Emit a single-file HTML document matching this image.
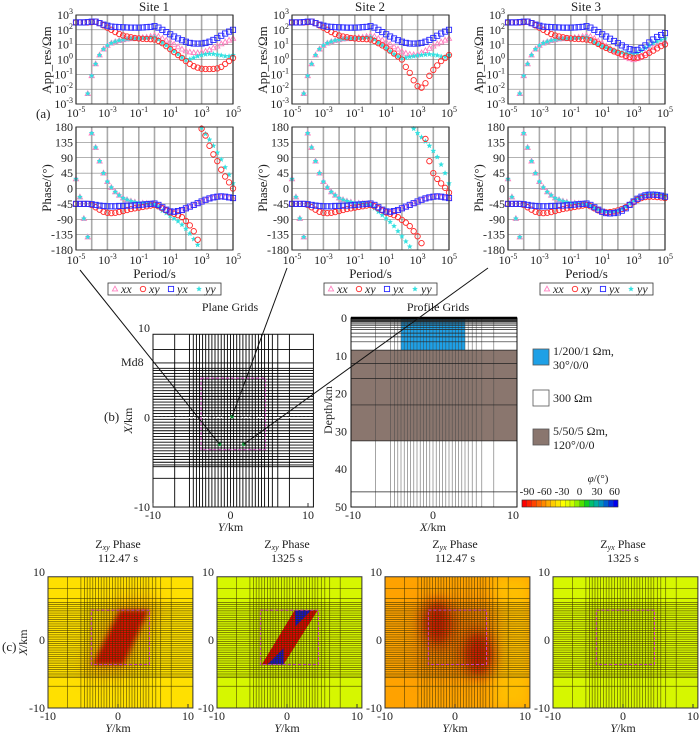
<!DOCTYPE html>
<html><head><meta charset="utf-8"><title>MT response figure</title>
<style>
html,body{margin:0;padding:0;background:#fff;}
svg{display:block;}
svg text{fill:#222;font-family:"Liberation Serif","Times New Roman",serif;}
</style></head>
<body>
<svg id="fig" width="700" height="735" viewBox="0 0 700 735" xmlns="http://www.w3.org/2000/svg" font-family="Liberation Serif, serif">
<defs>
<filter id="blur6" x="-50%" y="-50%" width="200%" height="200%"><feGaussianBlur stdDeviation="6"/></filter>
<filter id="blur3" x="-50%" y="-50%" width="200%" height="200%"><feGaussianBlur stdDeviation="2.5"/></filter>
<filter id="blur10" x="-50%" y="-50%" width="200%" height="200%"><feGaussianBlur stdDeviation="10"/></filter>
</defs>
<text x="154" y="11" font-size="13" text-anchor="middle">Site 1</text>
<text x="370" y="11" font-size="13" text-anchor="middle">Site 2</text>
<text x="586" y="11" font-size="13" text-anchor="middle">Site 3</text>
<text x="36" y="118" font-size="13">(a)</text>
<text x="104" y="421" font-size="13">(b)</text>
<text x="2" y="651" font-size="13">(c)</text>
<text x="230" y="311" font-size="12" text-anchor="middle">Plane Grids</text>
<text x="438" y="311" font-size="12" text-anchor="middle">Profile Grids</text>
<text x="121" y="366" font-size="12">Md8</text>
<g id="root"></g>
</svg>
<script>
// ---------- data ----------
const logPeriods = [];
for (let i = 0; i <= 40; i++) logPeriods.push(-5 + i * 0.25);

const s1RhoXX = [null,null,null,-2.3,-1.1,-0.3,0.3,0.7,0.95,1.1,1.2,1.28,1.33,1.38,1.4,1.42,1.45,1.48,1.5,1.55,1.62,1.55,1.42,1.3,1.18,1.02,0.85,0.7,0.58,0.5,0.46,0.45,0.48,0.55,0.65,0.78,0.9,1.05,1.18,1.3,1.42];
const s1RhoXY = [2.5,2.5,2.5,2.5,2.52,2.55,2.45,2.3,2.15,2.0,1.85,1.72,1.62,1.55,1.5,1.45,1.42,1.4,1.38,1.37,1.35,1.25,1.1,0.9,0.7,0.5,0.3,0.1,-0.1,-0.3,-0.45,-0.55,-0.62,-0.64,-0.64,-0.63,-0.6,-0.5,-0.3,-0.1,0.1];
const s1RhoYX = [2.5,2.5,2.5,2.52,2.55,2.55,2.45,2.35,2.28,2.22,2.2,2.18,2.17,2.16,2.15,2.15,2.15,2.16,2.18,2.2,2.25,2.15,2.0,1.85,1.7,1.55,1.42,1.3,1.2,1.12,1.08,1.07,1.08,1.12,1.2,1.32,1.45,1.6,1.75,1.88,2.0];
const s1RhoYY = [null,null,null,-2.3,-1.1,-0.3,0.3,0.7,0.95,1.1,1.2,1.28,1.33,1.38,1.4,1.4,1.42,1.44,1.45,1.48,1.5,1.35,1.15,0.95,0.75,0.55,0.35,0.15,-0.02,0.02,0.12,0.22,0.3,0.35,0.38,0.37,0.33,0.28,0.22,0.22,0.3];

const s2RhoXX = [null,null,null,-2.3,-1.1,-0.3,0.3,0.7,0.95,1.1,1.2,1.28,1.33,1.38,1.4,1.42,1.45,1.48,1.5,1.55,1.62,1.55,1.42,1.3,1.18,1.02,0.85,0.7,0.55,0.42,0.35,0.32,0.35,0.45,0.6,0.75,0.9,1.05,1.18,1.3,1.42];
const s2RhoXY = [2.5,2.5,2.5,2.5,2.52,2.55,2.45,2.3,2.15,2.0,1.85,1.72,1.62,1.55,1.5,1.45,1.42,1.4,1.38,1.37,1.35,1.25,1.1,0.95,0.8,0.6,0.4,0.2,0.0,-0.5,-0.9,-1.4,-1.8,-1.9,-1.6,-1.1,-0.7,-0.4,-0.1,0.1,0.3];
const s2RhoYX = [2.5,2.5,2.5,2.52,2.55,2.55,2.45,2.35,2.28,2.22,2.2,2.18,2.17,2.16,2.15,2.15,2.15,2.16,2.18,2.2,2.25,2.15,2.0,1.85,1.7,1.55,1.42,1.3,1.2,1.12,1.08,1.07,1.08,1.12,1.2,1.32,1.45,1.6,1.75,1.88,2.0];
const s2RhoYY = [null,null,null,-2.3,-1.1,-0.3,0.3,0.7,0.95,1.1,1.2,1.28,1.33,1.38,1.4,1.4,1.42,1.44,1.45,1.48,1.5,1.35,1.15,0.95,0.75,0.55,0.35,0.2,0.1,0.12,0.18,0.22,0.27,0.3,0.33,0.35,0.33,0.28,0.2,0.18,0.3];

const s3RhoXX = [null,null,null,-2.3,-1.1,-0.3,0.3,0.7,0.95,1.1,1.2,1.28,1.33,1.38,1.4,1.42,1.45,1.48,1.5,1.55,1.62,1.55,1.42,1.25,1.1,0.9,0.75,0.6,0.45,0.3,0.15,0.05,-0.02,0.05,0.2,0.4,0.6,0.8,0.95,1.1,1.2];
const s3RhoXY = [2.5,2.5,2.5,2.5,2.52,2.55,2.45,2.3,2.15,2.0,1.85,1.72,1.62,1.55,1.5,1.45,1.42,1.4,1.38,1.37,1.35,1.3,1.2,1.05,0.9,0.78,0.66,0.55,0.45,0.35,0.25,0.17,0.12,0.13,0.2,0.3,0.45,0.6,0.75,0.9,1.02];
const s3RhoYX = [2.5,2.5,2.5,2.52,2.55,2.55,2.45,2.35,2.28,2.22,2.2,2.18,2.17,2.16,2.15,2.15,2.15,2.16,2.18,2.2,2.25,2.15,2.0,1.85,1.7,1.55,1.4,1.25,1.1,0.95,0.82,0.7,0.62,0.65,0.78,0.95,1.15,1.35,1.52,1.65,1.78];
const s3RhoYY = [null,null,null,-2.3,-1.1,-0.3,0.3,0.7,0.95,1.1,1.2,1.28,1.33,1.38,1.4,1.4,1.42,1.44,1.45,1.48,1.5,1.35,1.15,1.0,0.9,0.8,0.7,0.6,0.55,0.48,0.42,0.38,0.35,0.45,0.6,0.78,0.95,1.1,1.22,1.32,1.42];

const s1PhXX = [28,-25,-88,-142,162,120,80,45,20,3,-10,-20,-28,-33,-37,-40,-42,-43,-44,-45,-46,-50,-57,-64,-69,-70,-68,-64,-59,-54,-49,-44,-39,-34,-30,-27,-25,-24,-25,-27,-29];
const s1PhXY = [-45,-45,-45,-45,-48,-55,-62,-68,-71,-72,-71,-69,-66,-63,-60,-58,-56,-54,-52,-50,-48,-52,-58,-64,-70,-74,-78,-84,-95,-108,-125,-150,175,155,125,100,80,55,35,18,0];
const s1PhYX = [-45,-45,-45,-45,-46,-48,-50,-51,-52,-52,-52,-51,-51,-50,-50,-49,-48,-47,-46,-45,-44,-48,-55,-62,-67,-68,-66,-63,-58,-53,-48,-43,-38,-33,-29,-26,-24,-23,-24,-26,-28];
const s1PhYY = [28,-25,-88,-142,162,120,80,45,20,3,-10,-20,-28,-33,-37,-40,-42,-43,-44,-45,-47,-55,-65,-72,-80,-88,-96,-106,-118,-132,-148,-165,178,160,143,125,105,85,62,40,15];

const s2PhXX = [28,-25,-88,-142,162,120,80,45,20,3,-10,-20,-28,-33,-37,-40,-42,-43,-44,-45,-46,-50,-57,-64,-69,-70,-68,-64,-59,-54,-49,-44,-39,-34,-30,-27,-25,-24,-25,-27,-29];
const s2PhXY = [-45,-45,-45,-45,-48,-55,-62,-68,-71,-72,-71,-69,-66,-63,-60,-58,-56,-54,-52,-50,-48,-52,-58,-64,-70,-74,-78,-84,-92,-100,-110,-125,-140,-160,145,80,45,28,15,2,-12];
const s2PhYX = [-45,-45,-45,-45,-46,-48,-50,-51,-52,-52,-52,-51,-51,-50,-50,-49,-48,-47,-46,-45,-44,-48,-55,-62,-67,-68,-66,-63,-58,-53,-48,-43,-38,-33,-29,-26,-24,-23,-24,-26,-28];
const s2PhYY = [28,-25,-88,-142,162,120,80,45,20,3,-10,-20,-28,-33,-37,-40,-42,-43,-44,-45,-48,-58,-68,-78,-88,-98,-110,-125,-140,-155,-170,175,162,150,138,125,110,92,70,45,15];

const s3PhXX = [28,-25,-88,-142,162,120,80,45,20,3,-10,-20,-28,-33,-37,-40,-42,-43,-44,-45,-46,-50,-56,-62,-68,-70,-70,-68,-66,-62,-55,-46,-37,-29,-23,-19,-17,-17,-18,-20,-22];
const s3PhXY = [-45,-45,-45,-45,-48,-55,-62,-68,-71,-72,-71,-69,-66,-63,-60,-58,-56,-54,-52,-50,-48,-52,-58,-64,-68,-70,-69,-67,-64,-60,-55,-48,-40,-33,-28,-25,-24,-24,-25,-26,-28];
const s3PhYX = [-45,-45,-45,-45,-46,-48,-50,-51,-52,-52,-52,-51,-51,-50,-50,-49,-48,-47,-46,-45,-44,-48,-55,-62,-68,-72,-73,-72,-70,-65,-58,-48,-38,-30,-24,-20,-18,-18,-19,-21,-24];
const s3PhYY = [28,-25,-88,-142,162,120,80,45,20,3,-10,-20,-28,-33,-37,-40,-42,-43,-44,-45,-46,-50,-56,-61,-66,-68,-68,-67,-65,-60,-53,-44,-35,-28,-22,-18,-16,-16,-17,-19,-21];

const rhoTickExps = [3,2,1,0,-1,-2,-3];
const phaseTicks = [180,135,90,45,0,-45,-90,-135,-180];
const periodTickExps = [-5,-3,-1,1,3,5];
const kmTicks = [-10,0,10];
const depthTicks = [0,10,20,30,40,50];
const colorbarLabels = ['-90','-60','-30','0','30','60'];

// ---------- helpers ----------
const NS = 'http://www.w3.org/2000/svg';
const root = document.getElementById('root');
function mk(tag, attrs, parent) {
  const e = document.createElementNS(NS, tag);
  for (const k in attrs) e.setAttribute(k, attrs[k]);
  (parent || root).appendChild(e);
  return e;
}
function txt(x, y, s, size, anchor, parent) {
  const e = mk('text', {x: x, y: y, 'font-size': size || 12, 'text-anchor': anchor || 'middle', 'font-family': 'Liberation Serif, serif'}, parent);
  e.textContent = s;
  return e;
}
function powLabel(x, y, exp, anchor) {
  const e = mk('text', {x: x, y: y, 'font-size': 12, 'text-anchor': anchor, 'font-family': 'Liberation Serif, serif'});
  e.textContent = '10';
  const sp = mk('tspan', {dy: -5, 'font-size': 8}, e);
  sp.textContent = String(exp);
  return e;
}
const COL = {xx: '#ff80c0', xy: '#ff2a2a', yx: '#2a2aff', yy: '#30e0e0'};
function marker(type, cx, cy, parent) {
  let e;
  if (type === 'xy') {
    e = mk('circle', {cx: cx, cy: cy, r: 2.7, fill: 'none', stroke: COL.xy, 'stroke-width': 0.9}, parent);
  } else if (type === 'yx') {
    e = mk('rect', {x: cx - 2.6, y: cy - 2.6, width: 5.2, height: 5.2, fill: 'none', stroke: COL.yx, 'stroke-width': 0.9}, parent);
  } else if (type === 'xx') {
    e = mk('polygon', {points: `${cx},${cy-2.8} ${cx+2.6},${cy+1.9} ${cx-2.6},${cy+1.9}`, fill: 'none', stroke: COL.xx, 'stroke-width': 0.9}, parent);
  } else {
    const p = [];
    for (let k = 0; k < 10; k++) {
      const r = k % 2 ? 1.1 : 2.6, a = -Math.PI / 2 + k * Math.PI / 5;
      p.push((cx + r * Math.cos(a)).toFixed(2) + ',' + (cy + r * Math.sin(a)).toFixed(2));
    }
    e = mk('polygon', {points: p.join(' '), fill: COL.yy, stroke: COL.yy, 'stroke-width': 0.4}, parent);
  }
  return e;
}

// ---------- site panels ----------
const siteLefts = [76, 292, 508];
const PW = 157, RT = 15, RB = 104, PT = 127, PB = 250;
const sites = [
  {rho: {xx: s1RhoXX, xy: s1RhoXY, yx: s1RhoYX, yy: s1RhoYY}, ph: {xx: s1PhXX, xy: s1PhXY, yx: s1PhYX, yy: s1PhYY}},
  {rho: {xx: s2RhoXX, xy: s2RhoXY, yx: s2RhoYX, yy: s2RhoYY}, ph: {xx: s2PhXX, xy: s2PhXY, yx: s2PhYX, yy: s2PhYY}},
  {rho: {xx: s3RhoXX, xy: s3RhoXY, yx: s3RhoYX, yy: s3RhoYY}, ph: {xx: s3PhXX, xy: s3PhXY, yx: s3PhYX, yy: s3PhYY}}
];
sites.forEach((site, k) => {
  const x0 = siteLefts[k];
  const xs = lp => x0 + (lp + 5) / 10 * PW;
  const yr = l => RT + (3 - l) / 6 * (RB - RT);
  const yp = d => PT + (180 - d) / 360 * (PB - PT);
  const g = mk('g', {});
  
  
  [[RT, RB], [PT, PB]].forEach(([t, b]) => {
    const bg = mk('rect', {x: x0, y: t, width: PW, height: b - t, fill: '#fff'}, g);
    
    
    for (let d = -5; d <= 5; d++) {
      const l = mk('line', {x1: xs(d), x2: xs(d), y1: t, y2: b, stroke: '#aaa', 'stroke-width': 1.6}, g);
      
      
    }
  });
  rhoTickExps.forEach(e => {
    const l = mk('line', {x1: x0, x2: x0 + PW, y1: yr(e), y2: yr(e), stroke: '#666', 'stroke-width': 0.5}, g);
    
    
    const t = powLabel(x0 - 3, yr(e) + 4, e, 'end');
    
    
  });
  phaseTicks.forEach(v => {
    const l = mk('line', {x1: x0, x2: x0 + PW, y1: yp(v), y2: yp(v), stroke: '#666', 'stroke-width': 0.5}, g);
    
    
    const t = txt(x0 - 3, yp(v) + 4, String(v), 12, 'end');
    
    
  });
  periodTickExps.forEach(e => {
    const a = powLabel(xs(e), 117, e, 'middle');
    
    
    const b = powLabel(xs(e), 264, e, 'middle');
    
    
  });
  ['xx', 'yy', 'xy', 'yx'].forEach(c => {
    site.rho[c].forEach((v, i) => {
      if (v === null) return;
      const m = marker(c, xs(logPeriods[i]), yr(v), g);
      
      
    });
    site.ph[c].forEach((v, i) => {
      if (v === null) return;
      const m = marker(c, xs(logPeriods[i]), yp(v), g);
      
      
    });
  });
  [[RT, RB], [PT, PB]].forEach(([t, b]) => {
    const f = mk('rect', {x: x0, y: t, width: PW, height: b - t, fill: 'none', stroke: '#333', 'stroke-width': 1}, g);
    
    
  });
  const yl1 = txt(0, 0, 'App_res/Ωm', 13);
  yl1.setAttribute('transform', `translate(${x0 - 25},60) rotate(-90)`);
  
  
  const yl2 = txt(0, 0, 'Phase/(°)', 13);
  yl2.setAttribute('transform', `translate(${x0 - 25},188) rotate(-90)`);
  
  
  const xl = txt(x0 + PW / 2, 278, 'Period/s', 13);
  
  
  const lg = mk('g', {}, g);
  
  
  const lb = mk('rect', {x: x0 + 32, y: 283, width: 113, height: 12, fill: '#fff', stroke: '#333', 'stroke-width': 0.8}, lg);
  
  
  ['xx', 'xy', 'yx', 'yy'].forEach((c, j) => {
    const mx = x0 + 39 + j * 28;
    const m = marker(c, mx, 289, lg);
    
    
    const t = txt(mx + 6, 293, c, 12, 'start', lg);
    t.setAttribute('font-style', 'italic');
    
    
  });
});

// ---------- grid definitions (layout) ----------
const gridV = [-7.2, -5.3, -4.8];
for (let v = -4.4; v <= 4.45; v += 0.4) gridV.push(+v.toFixed(2));
gridV.push(4.9, 5.4, 6.1, 7.6);
const gridH = [-6.8, -5.5, -5.3];
for (let v = -5.0; v <= 5.25; v += 0.32) gridH.push(+v.toFixed(2));
gridH.push(5.5, 6.1, 7.6);
const depthLines = [0.2, 0.4, 0.6, 0.8, 1.0, 1.3, 1.6, 2.0, 2.5, 3.0, 4.0, 5.0, 6.3, 8.5, 12, 16, 23, 32.5, 46];

function panel(left, right10, top10, bottom) {
  return {
    left: left, top: top10 - (top10 - bottom) / 20 * 0.7, bottom: bottom,
    right: right10 + (right10 - left) / 20 * 0.7,
    x: km => left + (km + 10) / 20 * (right10 - left),
    y: km => bottom - (km + 10) / 20 * (bottom - top10)
  };
}
function drawGridLines(p, g, col, w, op) {
  gridV.forEach(v => {
    const l = mk('line', {x1: p.x(v), x2: p.x(v), y1: p.top, y2: p.bottom, stroke: col, 'stroke-width': w, opacity: op}, g);
    
    
  });
  gridH.forEach(v => {
    const l = mk('line', {x1: p.left, x2: p.right, y1: p.y(v), y2: p.y(v), stroke: col, 'stroke-width': w, opacity: op}, g);
    
    
  });
}
function axesKm(p, g, xlab, ylab) {
  kmTicks.forEach(v => {
    const a = txt(p.x(v), p.bottom + 12, String(v), 12, 'middle', g);
    
    
    const tk = mk('line', {x1: p.x(v), x2: p.x(v), y1: p.bottom, y2: p.bottom - 4, stroke: '#333'}, g);
    
    
    const b = txt(p.left - 3, p.y(v) + 4, String(v), 12, 'end', g);
    
    
  });
  const xl = txt((p.x(-10) + p.x(10)) / 2, p.bottom + 24, '', 12, 'middle', g);
  const it = mk('tspan', {'font-style': 'italic'}, xl); it.textContent = xlab;
  const rest = mk('tspan', {}, xl); rest.textContent = '/km';
  
  
  if (ylab) {
    const yl = txt(0, 0, '', 12, 'middle', g);
    const i2 = mk('tspan', {'font-style': 'italic'}, yl); i2.textContent = ylab;
    const r2 = mk('tspan', {}, yl); r2.textContent = '/km';
    yl.setAttribute('transform', `translate(${p.left - 21},${(p.top + p.bottom) / 2}) rotate(-90)`);
    
    
  }
}
function magentaBox(p, g) {
  const r = mk('rect', {x: p.x(-3.8), y: p.y(4.4), width: p.x(4.5) - p.x(-3.8), height: p.y(-3.6) - p.y(4.4), fill: 'none', stroke: '#d040c0', 'stroke-width': 1, 'stroke-dasharray': '3,2'}, g);
  
  
}

// ---------- plane grid ----------
const pp = panel(153, 308, 328, 507);
const gp = mk('g', {});


drawGridLines(pp, gp, '#000', 0.9, 1);
const zl = mk('line', {x1: pp.left, x2: pp.right, y1: pp.y(0), y2: pp.y(0), stroke: '#fff', 'stroke-width': 1.2, 'stroke-dasharray': '2,2'}, gp);


magentaBox(pp, gp);
const pf = mk('rect', {x: pp.left, y: pp.top, width: pp.right - pp.left, height: pp.bottom - pp.top, fill: 'none', stroke: '#111', 'stroke-width': 1}, gp);


axesKm(pp, gp, 'Y', 'X');
const sitePts = [[-1.4, -3.0], [0.2, 0.1], [1.7, -3.0]];
sitePts.forEach((s, i) => {
  const c = mk('circle', {cx: pp.x(s[0]), cy: pp.y(s[1]), r: 1.8, fill: '#1a9a40'}, gp);
  
  
});

// ---------- profile grid ----------
const px0 = 353, px1 = 513, pyTop = 318, pyBot = 507;
const dx = km => px0 + (km + 10) / 20 * (px1 - px0);
const dy = d => pyTop + d / 50 * (pyBot - pyTop);
const gq = mk('g', {});


const brown = mk('rect', {x: 351, y: dy(8.5), width: 517 - 351, height: dy(32.5) - dy(8.5), fill: '#8a766e'}, gq);


const blue = mk('rect', {x: dx(-4), y: dy(0), width: dx(4) - dx(-4), height: dy(8.5) - dy(0), fill: '#1ea0e6'}, gq);


gridV.forEach(v => {
  const l = mk('line', {x1: dx(v), x2: dx(v), y1: pyTop, y2: pyBot, stroke: '#444', 'stroke-width': 0.6, opacity: 0.8}, gq);
  
  
});
depthLines.forEach(d => {
  const l = mk('line', {x1: 351, x2: 517, y1: dy(d), y2: dy(d), stroke: '#222', 'stroke-width': 0.7}, gq);
  
  
});
const qf = mk('rect', {x: 351, y: pyTop, width: 166, height: pyBot - pyTop, fill: 'none', stroke: '#111', 'stroke-width': 1}, gq);


const topBar = mk('line', {x1: 351, x2: 517, y1: pyTop, y2: pyTop, stroke: '#000', 'stroke-width': 2.5}, gq);


depthTicks.forEach(d => {
  const t = txt(347, dy(d) + 4, String(d), 12, 'end', gq);
  
  
});
kmTicks.forEach(v => {
  const t = txt(dx(v), 519, String(v), 12, 'middle', gq);
  
  
});
const dl = txt(0, 0, 'Depth/km', 12, 'middle', gq);
dl.setAttribute('transform', 'translate(332,410) rotate(-90)');


const pxl = txt(433, 531, '', 12, 'middle', gq);
const pxi = mk('tspan', {'font-style': 'italic'}, pxl); pxi.textContent = 'X';
const pxr = mk('tspan', {}, pxl); pxr.textContent = '/km';



// model legend
const legItems = [
  {y: 349, fill: '#1ea0e6', l1: '1/200/1 Ωm,', l2: '30°/0/0', name: 'legend-anisotropic-block'},
  {y: 390, fill: '#ffffff', l1: '300 Ωm', l2: '', name: 'legend-background'},
  {y: 429, fill: '#8a766e', l1: '5/50/5 Ωm,', l2: '120°/0/0', name: 'legend-conductive-layer'}
];
legItems.forEach(it => {
  const r = mk('rect', {x: 533, y: it.y, width: 16, height: 16, fill: it.fill, stroke: '#555', 'stroke-width': 0.8});
  
  
  const t1 = txt(553, it.l2 ? it.y + 6 : it.y + 12, it.l1, 12, 'start');
  
  
  if (it.l2) {
    const t2 = txt(553, it.y + 20, it.l2, 12, 'start');
    
    
  }
});
const cbColors = ['#ff0000','#ff2200','#ff4400','#ff6600','#ff8800','#ffaa00','#ffcc00','#ffe600','#ffff00','#e6ff00','#c8ff00','#90f000','#50e000','#10d020','#00c070','#00b0a0','#0090c0','#0060d0','#0030e0','#0000f0'];
cbColors.forEach((c, i) => {
  const r = mk('rect', {x: 522 + i * 4.8, y: 500, width: 4.8, height: 7, fill: c, stroke: '#333', 'stroke-width': 0.2});
  
  
});
const cbf = mk('rect', {x: 522, y: 500, width: 96, height: 7, fill: 'none', stroke: '#333', 'stroke-width': 0.6});


colorbarLabels.forEach((s, i) => {
  const t = txt(527 + i * 17.5, 495, s, 11, 'middle');
  
  
});
const cbt = txt(598, 482, '', 11, 'middle');
const cbi = mk('tspan', {'font-style': 'italic'}, cbt); cbi.textContent = 'φ';
const cbr = mk('tspan', {}, cbt); cbr.textContent = '/(°)';



// connector lines
const conn = [[80, 270, -1.4, -3.0], [287, 268, 0.2, 0.1], [488, 268, 1.7, -3.0]];
conn.forEach((c, i) => {
  const l = mk('line', {x1: c[0], y1: c[1], x2: pp.x(c[2]), y2: pp.y(c[3]), stroke: '#111', 'stroke-width': 1});
  
  
});

// ---------- phase maps ----------
const mapLefts = [48, 217, 385, 553];
const mapTitles = [['xy', '112.47 s'], ['xy', '1325 s'], ['yx', '112.47 s'], ['yx', '1325 s']];
const mapBase = ['#ffe000', '#d6f700', '#ffa200', '#d6f700'];
mapLefts.forEach((L, k) => {
  const p = panel(L, L + 140, 572, 708);
  const g = mk('g', {});
  
  
  const cp = mk('clipPath', {id: 'clip' + k}, g);
  mk('rect', {x: p.left, y: p.top, width: p.right - p.left, height: p.bottom - p.top}, cp);
  const inner = mk('g', {'clip-path': `url(#clip${k})`}, g);
  const bg = mk('rect', {x: p.left, y: p.top, width: p.right - p.left, height: p.bottom - p.top, fill: mapBase[k]}, inner);
  
  
  const P = (a) => a.map(q => p.x(q[0]).toFixed(1) + ',' + p.y(q[1]).toFixed(1)).join(' ');
  if (k === 0) {
    const h = mk('polygon', {points: P([[-5, -5], [1, -5], [6, 6], [0, 6]]), fill: '#ff9a00', opacity: 0.8, filter: 'url(#blur10)'}, inner);
    
    
    const r = mk('polygon', {points: P([[-3.6, -3.6], [0.8, -3.6], [4.4, 4.4], [0.2, 4.4]]), fill: '#e81000', filter: 'url(#blur3)'}, inner);
    
    
  } else if (k === 1) {
    const r = mk('polygon', {points: P([[-3.6, -3.6], [-0.5, -3.6], [4.4, 4.4], [1.1, 4.4]]), fill: '#ee0000'}, inner);
    
    
    const b1 = mk('polygon', {points: P([[-2.8, -3.6], [-0.5, -3.6], [-0.5, -1.2]]), fill: '#1010e0'}, inner);
    
    
    const b2 = mk('polygon', {points: P([[1.1, 4.4], [3.5, 4.4], [1.2, 2.0]]), fill: '#1010e0'}, inner);
    
    
  } else if (k === 2) {
    const e1 = mk('rect', {x: p.x(5.5), y: p.top, width: p.right - p.x(5.5), height: p.bottom - p.top, fill: '#ffbe00', filter: 'url(#blur6)'}, inner);
    
    
    const h = mk('rect', {x: p.x(-5), y: p.y(5.5), width: p.x(5.5) - p.x(-5), height: p.y(-5) - p.y(5.5), fill: '#f07000', opacity: 0.8, filter: 'url(#blur10)'}, inner);
    
    
    [[-2.5, 2.5], [3.3, -2.0]].forEach(c => {
      const bl = mk('ellipse', {cx: p.x(c[0]), cy: p.y(c[1]), rx: 14, ry: 22, fill: '#d81800', filter: 'url(#blur6)'}, inner);
      
      
    });
  }
  drawGridLines(p, inner, '#3a3000', 0.7, 0.75);
  magentaBox(p, g);
  const fr = mk('rect', {x: p.left, y: p.top, width: p.right - p.left, height: p.bottom - p.top, fill: 'none', stroke: '#333', 'stroke-width': 1}, g);
  
  
  axesKm(p, g, 'Y', k === 0 ? 'X' : null);
  const cx = (p.x(-10) + p.x(10)) / 2;
  const t1 = txt(cx, 548, 'Z', 12, 'middle', g);
  const sub = mk('tspan', {'font-size': 8, dy: 2, 'font-style': 'italic'}, t1); sub.textContent = mapTitles[k][0];
  const rest = mk('tspan', {dy: -2}, t1); rest.textContent = ' Phase';
  
  
  const t2 = txt(cx, 562, mapTitles[k][1], 12, 'middle', g);
  
  
});
</script>
</body></html>
